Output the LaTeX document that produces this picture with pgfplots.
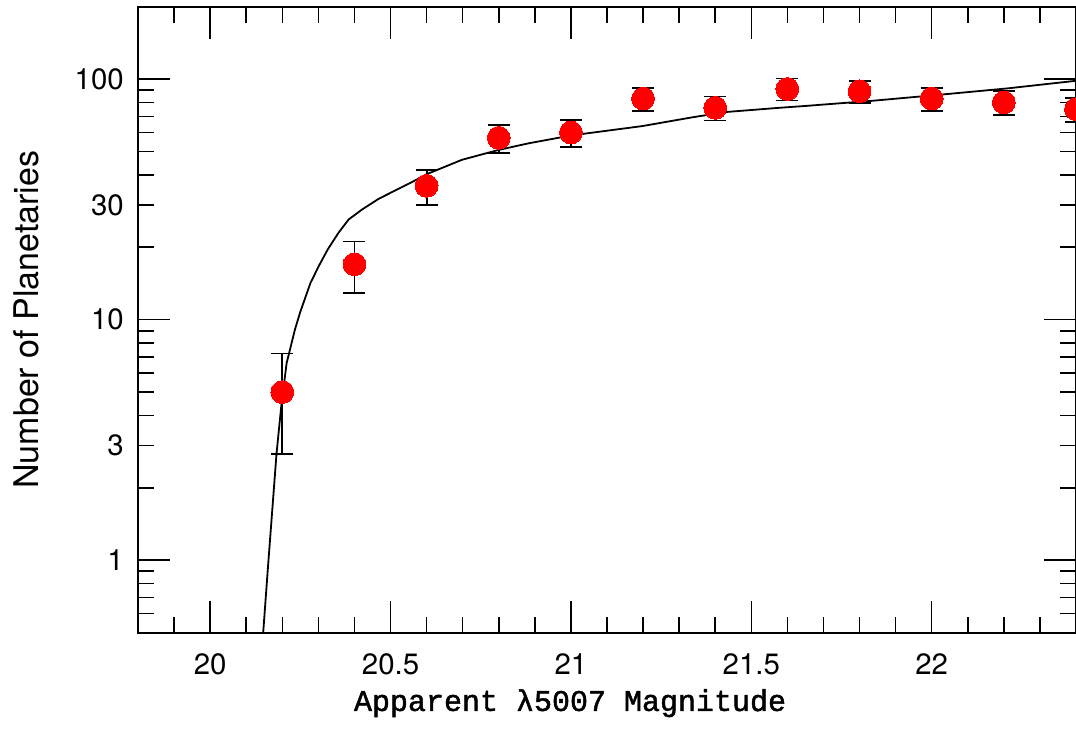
\documentclass[border=0pt]{standalone}
\usepackage{pgfplots}
\pgfplotsset{compat=1.18}
\usepackage{fontspec}
\setmainfont{TeX Gyre Heros}
\newfontfamily\labmono[FakeBold=1.5]{Liberation Mono}

\pgfplotstableread{
x     y    e
20.2  5    2.236
20.4  17   4.123
20.6  36   6.000
20.8  57   7.550
21.0  60   7.746
21.2  83   9.110
21.4  76   8.718
21.6  91   9.539
21.8  89   9.434
22.0  83   9.110
22.2  80   8.944
22.4  75   8.660
}\pnlf

\pgfplotstableread{
x       y
20.147  0.5
20.161  0.97
20.175  1.84
20.184  2.78
20.198  4.5
20.212  6.6
20.235  9.1
20.250  10.8
20.278  14.2
20.301  16.7
20.326  19.6
20.356  23.0
20.384  26.1
20.421  28.7
20.467  31.8
20.559  37.3
20.601  40.3
20.698  46.2
20.800  50.8
20.883  54.1
21.000  58.3
21.059  59.9
21.198  63.8
21.337  69.4
21.430  73.0
21.578  76.0
21.652  77.4
21.837  81.3
22.022  86.1
22.207  91.4
22.400  98.4
}\fitcurve

\begin{document}
\begin{tikzpicture}
\begin{axis}[
  scale only axis,
  width=469pt, height=313pt,
  xmin=19.8, xmax=22.4,
  ymode=log, ymin=0.5, ymax=200,
  axis line style={line width=1pt},
  tick align=inside,
  major tick length=16pt, minor tick length=8pt,
  every tick/.style={line width=0.8pt, black},
  xtick={20,20.5,21,21.5,22},
  xticklabels={20,20.5,21,21.5,22},
  minor xtick={19.9,20.1,20.2,20.3,20.4,20.6,20.7,20.8,20.9,21.1,21.2,21.3,21.4,21.6,21.7,21.8,21.9,22.1,22.2,22.3},
  ytick={1,10,100}, yticklabels={1,10,100},
  extra y ticks={3,30}, extra y tick labels={3,30},
  extra y tick style={major tick length=8pt},
  minor ytick={0.6,0.7,0.8,0.9,2,4,5,6,7,8,9,20,40,50,60,70,80,90},
  /pgf/number format/assume math mode=true,
  ticklabel style={font=\fontsize{14.7}{16}\selectfont},
  xticklabel style={yshift=-7pt},
  yticklabel style={xshift=-3.6pt},
  xlabel={Apparent λ5007 Magnitude},
  ylabel={Number of Planetaries},
  xlabel style={at={(rel axis cs:0.4606,-0.125)}, anchor=base, font=\labmono\fontsize{15}{18}\selectfont},
  ylabel style={at={(rel axis cs:-0.1066,0.5)}, anchor=base, font=\fontsize{17}{20}\selectfont},
]
\addplot[only marks, mark=*, mark size=5.7pt, mark options={draw=red, fill=red, line width=0pt}] table[x=x, y=y] {\pnlf};
\addplot[draw=none, mark=none, forget plot,
  error bars/.cd, y dir=both, y explicit,
  error bar style={draw=black, line width=0.9pt},
  error mark options={rotate=90, draw=black, mark size=5.5pt, line width=0.9pt}]
  table[x=x, y=y, y error=e] {\pnlf};
\addplot[black, line width=0.9pt, mark=none] table[x=x, y=y] {\fitcurve};
\coordinate (bl) at (rel axis cs:0,0);
\coordinate (tr) at (rel axis cs:1,1);
\end{axis}
\pgfresetboundingbox
\useasboundingbox ([xshift=-69pt,yshift=-56.15pt]bl) rectangle ([yshift=3.35pt]tr);
\end{tikzpicture}
\end{document}
